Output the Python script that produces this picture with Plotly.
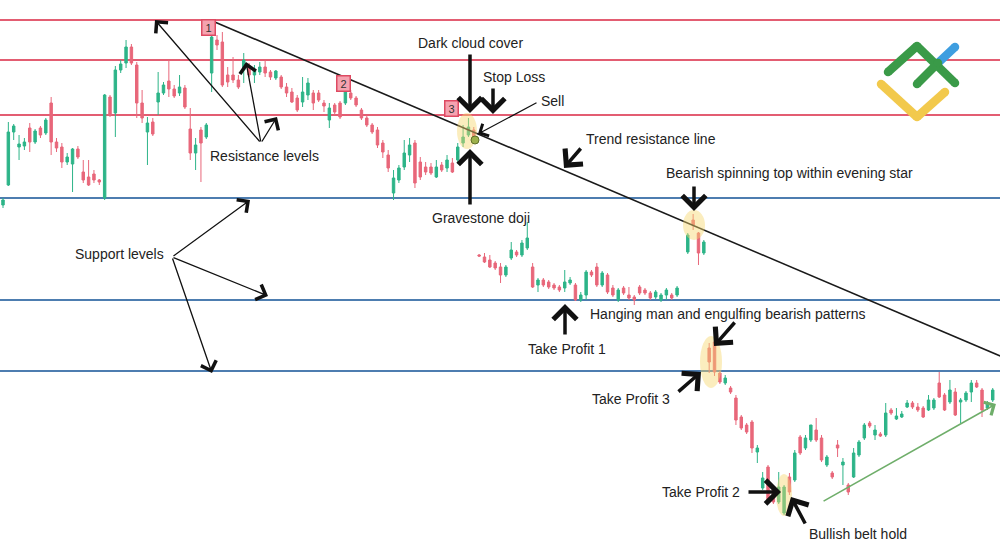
import plotly.graph_objects as go

# ---------------- DATA ----------------
# bar index (time); one missing bar (127) between the middle and right segments
bar_index = list(range(0, 127)) + list(range(128, 186))

open_ = [
    340, 360, 413, 398, 399, 417, 403, 417, 412, 442,
    403, 398, 383, 381, 396, 373, 368, 371, 365, 347,
    448, 432, 475, 482, 498, 480, 442, 413, 423, 443,
    452, 464, 456, 452, 457, 416, 392, 415, 408, 472,
    505, 503, 470, 470, 465, 475, 478, 470, 473, 478,
    473, 467, 468, 458, 453, 447, 443, 450, 452, 452,
    442, 425, 440, 442, 442, 452, 447, 435, 427, 420,
    415, 402, 390, 352, 365, 378, 390, 402, 383, 378,
    378, 368, 380, 377, 382, 385, 402, 410, 415,
    290, 288, 285, 282, 278, 270, 287, 293, 290, 297,
    278, 260, 265, 263, 260, 258, 257, 262, 260, 245,
    250, 273, 278, 260, 270, 257, 245, 257, 250, 248,
    258, 255, 252, 248, 245, 250, 250, 250,
    293, 325, 312, 292, 197, 203, 172, 162, 157, 147,
    128, 120, 123, 93, 57, 78, 57, 43, 32, 68,
    65, 108, 97, 105, 115, 107, 80, 72, 100, 80,
    60, 68, 90, 107, 122, 110, 111, 110, 135, 126,
    128, 138, 142, 138, 137, 135, 137, 162, 150, 143,
    153, 143, 145, 153, 162, 155, 137, 145,
]
high = [
    347, 423, 421, 410, 407, 422, 416, 419, 427, 448,
    407, 402, 392, 397, 399, 385, 385, 375, 366, 451,
    450, 479, 485, 505, 501, 483, 455, 428, 427, 473,
    463, 485, 460, 470, 460, 437, 407, 418, 422, 510,
    510, 513, 478, 488, 470, 492, 482, 480, 483, 485,
    475, 475, 470, 462, 457, 450, 468, 467, 455, 455,
    445, 442, 442, 444, 465, 455, 449, 437, 430, 422,
    418, 405, 395, 375, 380, 405, 407, 405, 388, 383,
    382, 385, 383, 390, 387, 402, 420, 427, 418,
    291, 292, 290, 284, 282, 280, 303, 295, 305, 323,
    282, 267, 267, 265, 262, 260, 275, 268, 262, 253,
    275, 275, 282, 274, 272, 260, 257, 259, 258, 250,
    260, 257, 254, 255, 252, 257, 252, 259,
    312, 331, 313, 305, 202, 207, 174, 170, 159, 150,
    130, 122, 125, 100, 73, 80, 59, 73, 60, 72,
    95, 110, 110, 120, 127, 110, 90, 74, 105, 87,
    62, 97, 105, 122, 124, 120, 113, 142, 137, 137,
    134, 145, 144, 142, 139, 150, 147, 173, 152, 165,
    157, 147, 154, 165, 165, 157, 144, 157,
]
low = [
    337, 359, 405, 385, 395, 393, 401, 407, 410, 390,
    393, 377, 380, 353, 386, 362, 359, 362, 360, 345,
    428, 408, 472, 477, 480, 427, 422, 380, 409, 430,
    450, 448, 447, 449, 436, 385, 375, 363, 406, 453,
    495, 458, 458, 462, 456, 462, 468, 462, 470, 468,
    465, 465, 456, 448, 442, 433, 438, 445, 435, 443,
    433, 417, 430, 426, 440, 445, 438, 425, 418, 411,
    397, 387, 373, 345, 362, 375, 383, 357, 365, 370,
    370, 367, 373, 373, 372, 383, 398, 408, 405,
    288, 282, 277, 275, 262, 268, 285, 288, 288, 295,
    257, 253, 258, 256, 255, 253, 253, 260, 244, 243,
    245, 268, 258, 258, 251, 248, 243, 250, 245, 240,
    250, 250, 245, 246, 243, 245, 245, 248,
    291, 315, 280, 290, 172, 169, 161, 160, 151, 120,
    115, 111, 92, 82, 55, 42, 41, 41, 30, 50,
    63, 90, 95, 103, 103, 83, 78, 66, 88, 60,
    50, 67, 88, 105, 117, 105, 108, 108, 130, 125,
    127, 137, 136, 133, 127, 134, 135, 147, 134, 141,
    129, 122, 143, 143, 157, 128, 135, 143,
]
close = [
    345, 413, 419, 401, 403, 403, 414, 410, 425, 403,
    397, 383, 388, 396, 388, 365, 360, 365, 363, 450,
    430, 475, 481, 498, 482, 442, 427, 422, 411, 452,
    460, 456, 449, 458, 438, 392, 400, 402, 420, 508,
    500, 460, 463, 465, 458, 485, 470, 475, 478, 472,
    468, 474, 458, 452, 443, 435, 453, 462, 442, 445,
    439, 437, 433, 428, 455, 447, 440, 427, 420, 413,
    400, 393, 377, 367, 377, 392, 400, 362, 368, 373,
    372, 378, 375, 385, 373, 398, 408, 418, 408,
    289, 283, 278, 277, 270, 278, 295, 290, 302, 307,
    258, 265, 260, 258, 257, 255, 263, 265, 245, 250,
    273, 270, 260, 272, 253, 250, 255, 252, 247, 245,
    252, 252, 247, 253, 250, 255, 247, 257,
    310, 320, 292, 303, 183, 173, 163, 167, 153, 125,
    117, 113, 97, 97, 67, 43, 43, 58, 58, 53,
    92, 92, 107, 120, 105, 85, 88, 68, 97, 83,
    53, 92, 103, 120, 119, 115, 109, 132, 132, 129,
    131, 142, 138, 135, 128, 145, 145, 148, 135, 155,
    130, 145, 152, 162, 158, 135, 142, 155,
]

resistance_levels = [525, 485, 430]
support_levels = [347, 245, 174]
trend_x = [38.7, 186.4]
trend_y = [525, 189]
uptrend_x = [153.1, 185.6]
uptrend_y = [43, 141]

# ---------------- STYLE ----------------
W, H = 1000, 545
GREEN = "#2db488"
RED = "#e8677a"
RES_COLOR = "#e35d72"
SUP_COLOR = "#4d7db0"
TXT = "#222222"
FONT = "Liberation Sans, Arial, sans-serif"


def P(px, py):
    return px / W, 1 - py / H


shapes = []
annotations = []

for lv in resistance_levels:
    shapes.append(dict(type="line", xref="paper", yref="y", x0=0, x1=1, y0=lv, y1=lv,
                       line=dict(color=RES_COLOR, width=2), layer="below"))
for lv in support_levels:
    shapes.append(dict(type="line", xref="paper", yref="y", x0=0, x1=1, y0=lv, y1=lv,
                       line=dict(color=SUP_COLOR, width=2), layer="below"))


def ellipse(cx, cy, rx, ry, color="rgba(246,214,110,0.45)"):
    x0, y0 = P(cx - rx, cy + ry)
    x1, y1 = P(cx + rx, cy - ry)
    shapes.append(dict(type="circle", xref="paper", yref="paper",
                       x0=x0, y0=y0, x1=x1, y1=y1,
                       fillcolor=color, line=dict(width=0), layer="above"))


ellipse(467, 131, 10, 18)
ellipse(694, 225, 11, 15)
ellipse(711, 362, 11, 26)
ellipse(784, 495, 8, 21)

# gravestone doji dot
dx0, dy0 = P(471, 144)
dx1, dy1 = P(479, 136)
shapes.append(dict(type="circle", xref="paper", yref="paper", x0=dx0, y0=dy0, x1=dx1, y1=dy1,
                   fillcolor="#9db14c", line=dict(color="#5f6f2a", width=1), layer="above"))


# logo
def stroke(points, color, width=8.5):
    for (xa, ya), (xb, yb) in zip(points[:-1], points[1:]):
        a0, b0 = P(xa, ya)
        a1, b1 = P(xb, yb)
        shapes.append(dict(type="line", xref="paper", yref="paper",
                           x0=a0, y0=b0, x1=a1, y1=b1,
                           line=dict(color=color, width=width), layer="above"))
    for (x, y) in points:
        c0, e0 = P(x - width / 2, y + width / 2)
        c1, e1 = P(x + width / 2, y - width / 2)
        shapes.append(dict(type="circle", xref="paper", yref="paper",
                           x0=c0, y0=e0, x1=c1, y1=e1,
                           fillcolor=color, line=dict(width=0), layer="above"))


stroke([(938, 63), (955, 47)], "#3e9ee0")
stroke([(888, 72), (917, 46), (955, 83)], "#3a9a48")
stroke([(917, 84), (938, 63)], "#3a9a48")
stroke([(881, 84), (917, 117), (945, 92)], "#f2c94c")


def label(text, px, py, size=14):
    x, y = P(px, py)
    annotations.append(dict(text=text, x=x, y=y, xref="paper", yref="paper",
                            showarrow=False, xanchor="center", yanchor="middle",
                            font=dict(family=FONT, size=size, color=TXT)))


def arrow(tail, head, width=3.5, size=1.3, head_style=4, color="#111111"):
    hx, hy = P(*head)
    tx, ty = P(*tail)
    annotations.append(dict(text="", x=hx, y=hy, ax=tx, ay=ty,
                            xref="x domain", yref="y domain",
                            axref="x domain", ayref="y domain",
                            showarrow=True, arrowhead=head_style, arrowsize=size,
                            arrowwidth=width, arrowcolor=color,
                            standoff=0, startstandoff=0))


def box(num, px, py):
    x, y = P(px, py)
    annotations.append(dict(text=num, x=x, y=y, xref="paper", yref="paper",
                            showarrow=False, xanchor="center", yanchor="middle",
                            bgcolor="#f5a3b0", bordercolor="#de4a62", borderwidth=1.5,
                            borderpad=1, width=10, height=12,
                            font=dict(family=FONT, size=11, color="#333333")))


label("Dark cloud cover", 470, 43)
label("Stop Loss", 514, 77)
label("Sell", 552, 101)
label("Trend resistance line", 651, 139)
label("Bearish spinning top within evening star", 789, 173)
label("Resistance levels", 264, 156)
label("Gravestone doji", 481, 218)
label("Support levels", 119, 254)
label("Hanging man and engulfing bearish patterns", 728, 314)
label("Take Profit 1", 567, 349)
label("Take Profit 3", 631, 399)
label("Take Profit 2", 701, 492)
label("Bullish belt hold", 858, 534)

box("1", 208, 27)
box("2", 343, 83)
box("3", 451, 108)

# thick arrows
arrow((470, 53), (470, 113))
arrow((493, 87), (493, 114))
arrow((582, 147), (564, 168))
arrow((694, 185), (694, 211))
arrow((470, 206), (470, 149))
arrow((565, 336), (565, 304))
arrow((736, 321), (714, 346))
arrow((677, 393), (701, 372))
arrow((747, 492), (781, 492))
arrow((806, 525), (791, 497))

# thin arrows
arrow((538, 102), (478, 134), width=1.2, size=2.2)
for head in [(155, 20), (246, 62), (277, 117)]:
    arrow((261, 143), head, width=1.3, size=2.4)
for head in [(250, 200), (268, 296), (212, 373)]:
    arrow((172, 257), head, width=1.3, size=2.4)

# green uptrend arrow (data coords)
annotations.append(dict(text="", x=uptrend_x[1], y=uptrend_y[1],
                        ax=uptrend_x[0], ay=uptrend_y[0],
                        xref="x", yref="y", axref="x", ayref="y",
                        showarrow=True, arrowhead=4, arrowsize=1.8, arrowwidth=1.6,
                        arrowcolor="#6fae6a", standoff=0))

candles = go.Candlestick(
    x=bar_index, open=open_, high=high, low=low, close=close,
    increasing=dict(line=dict(color=GREEN, width=1), fillcolor=GREEN),
    decreasing=dict(line=dict(color=RED, width=1), fillcolor=RED),
    whiskerwidth=0, showlegend=False, hoverinfo="skip",
)
trend = go.Scatter(
    x=trend_x, y=trend_y, mode="lines",
    line=dict(color="#1a1a1a", width=1.6), showlegend=False, hoverinfo="skip",
)

layout = go.Layout(
    width=W, height=H,
    margin=dict(l=0, r=0, t=0, b=0),
    paper_bgcolor="white", plot_bgcolor="white",
    showlegend=False,
    shapes=shapes, annotations=annotations,
    xaxis=dict(range=[-0.561, 186.36], visible=False, rangeslider=dict(visible=False),
               showgrid=False, zeroline=False),
    yaxis=dict(range=[0, 545], visible=False, showgrid=False, zeroline=False),
    boxgap=0.35,
)

fig = go.Figure(data=[candles, trend], layout=layout)

fig.write_html("out.html", config={"displayModeBar": False},
               post_script="document.body.style.margin='0';document.body.style.overflow='hidden';")
